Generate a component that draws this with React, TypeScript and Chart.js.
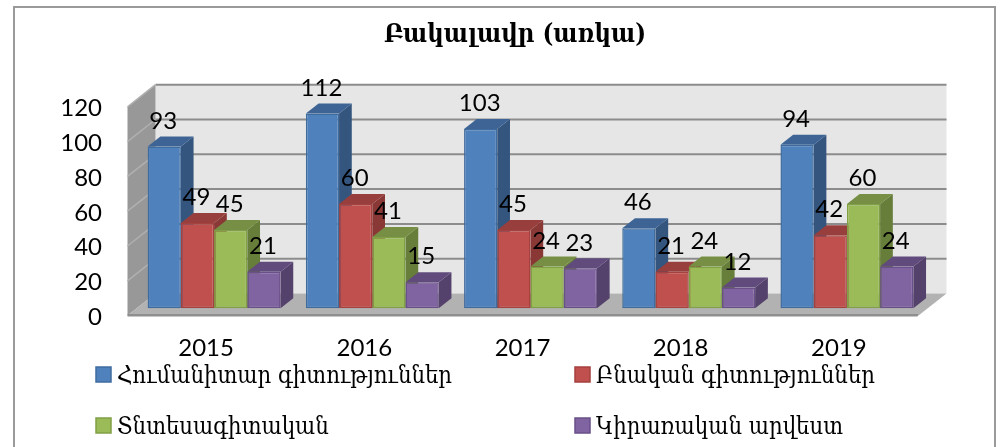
import React, { useEffect, useRef } from "react";
import { Chart, registerables } from "chart.js";

Chart.register(...registerables);

const categories = ["2015", "2016", "2017", "2018", "2019"];
const humanities = [93, 112, 103, 46, 94];
const naturalSci = [49, 60, 45, 21, 42];
const economics = [45, 41, 24, 24, 60];
const appliedArts = [21, 15, 23, 12, 24];
const seriesNames = [
  "Հումանիտար գիտություններ",
  "Բնական գիտություններ",
  "Տնտեսագիտական",
  "Կիրառական արվեստ",
];
const titleText = "Բակալավր (առկա)";

const NUM_FONT = "Lato";
const ARM_FONT = "'DejaVu Serif Condensed', 'DejaVu Serif'";

const faceColors = [
  { front: "#4F81BD", border: "#3F6C9F", side: "#34557E", top: "#3D6494" },
  { front: "#C0504D", border: "#A5423F", side: "#8A3836", top: "#983F3D" },
  { front: "#9BBB59", border: "#80A046", side: "#677D3A", top: "#768F44" },
  { front: "#8064A2", border: "#6A5088", side: "#55426C", top: "#604B7C" },
];

const FRONT = { dx: -7.5, dy: 7.3 };
const BACK = { dx: 20.5, dy: -14.8 };
const BAR_DEPTH = { dx: 12.7, dy: -10 };

function poly(ctx: CanvasRenderingContext2D, pts: number[][], fill: string) {
  ctx.beginPath();
  pts.forEach((p, i) => (i ? ctx.lineTo(p[0], p[1]) : ctx.moveTo(p[0], p[1])));
  ctx.closePath();
  ctx.fillStyle = fill;
  ctx.fill();
}

const box3d = {
  id: "box3d",
  afterLayout(chart: any) {
    // let the value labels sit outside the narrow axis box without being clipped
    chart.scales.y.left = 0;
  },
  beforeDraw(chart: any) {
    const { ctx } = chart;
    ctx.save();
    ctx.fillStyle = "#fff";
    ctx.fillRect(0, 0, chart.width, chart.height);
    ctx.strokeStyle = "#9A9A9A";
    ctx.lineWidth = 2;
    ctx.beginPath();
    ctx.moveTo(14, 447);
    ctx.lineTo(14, 7);
    ctx.lineTo(995, 7);
    ctx.lineTo(995, 447);
    ctx.stroke();
    ctx.restore();
  },
  beforeDatasetsDraw(chart: any) {
    const { ctx, scales } = chart;
    const y = scales.y;
    const left = chart.chartArea.left;
    const right = chart.chartArea.right;
    const y0 = y.getPixelForValue(0);
    const yMax = y.getPixelForValue(120);
    ctx.save();
    // back wall
    poly(ctx, [[left + BACK.dx, yMax + BACK.dy], [right + BACK.dx, yMax + BACK.dy], [right + BACK.dx, y0 + BACK.dy], [left + BACK.dx, y0 + BACK.dy]], "#E6E6E6");
    // left wall
    poly(ctx, [[left + FRONT.dx, yMax + FRONT.dy], [left + BACK.dx, yMax + BACK.dy], [left + BACK.dx, y0 + BACK.dy], [left + FRONT.dx, y0 + FRONT.dy]], "#989898");
    // floor
    poly(ctx, [[left + FRONT.dx, y0 + FRONT.dy], [right + FRONT.dx, y0 + FRONT.dy], [right + BACK.dx, y0 + BACK.dy], [left + BACK.dx, y0 + BACK.dy]], "#B2B2B2");
    poly(ctx, [[left + FRONT.dx, y0 + FRONT.dy - 1.5], [right + FRONT.dx, y0 + FRONT.dy - 1.5], [right + FRONT.dx - 1, y0 + FRONT.dy + 1], [left + FRONT.dx, y0 + FRONT.dy + 1]], "#8F8F8F");
    // gridlines
    y.ticks.forEach((t: any) => {
      const py = y.getPixelForValue(t.value);
      if (t.value > 0) {
        ctx.strokeStyle = "#8C8C8C";
        ctx.lineWidth = 2;
        ctx.beginPath();
        ctx.moveTo(left + BACK.dx, py + BACK.dy);
        ctx.lineTo(right + BACK.dx, py + BACK.dy);
        ctx.stroke();
        ctx.strokeStyle = "#B0B0B0";
        ctx.lineWidth = 1.5;
        ctx.beginPath();
        ctx.moveTo(left + FRONT.dx, py + FRONT.dy);
        ctx.lineTo(left + BACK.dx, py + BACK.dy);
        ctx.stroke();
      }
    });
    // bars, series by series from left to right so each front covers its neighbour's side face
    chart.data.datasets.forEach((_: any, i: number) => {
      const c = faceColors[i];
      chart.getDatasetMeta(i).data.forEach((bar: any) => {
        const { x, y: top, base, width } = bar.getProps(["x", "y", "base", "width"], true);
        const l = x - width / 2;
        const r = x + width / 2;
        const d = BAR_DEPTH;
        poly(ctx, [[r, top], [r + d.dx, top + d.dy], [r + d.dx, base + d.dy], [r, base]], c.side);
        poly(ctx, [[l, top], [l + d.dx, top + d.dy], [r + d.dx, top + d.dy], [r, top]], c.top);
        bar.draw(ctx);
      });
    });
    ctx.restore();
    return false;
  },
  afterDraw(chart: any) {
    const { ctx } = chart;
    ctx.save();
    // data labels
    ctx.font = `24px ${NUM_FONT}`;
    ctx.fillStyle = "#000";
    ctx.textAlign = "center";
    ctx.textBaseline = "middle";
    chart.data.datasets.forEach((ds: any, i: number) => {
      chart.getDatasetMeta(i).data.forEach((bar: any, j: number) => {
        const { x, y } = bar.getProps(["x", "y"], true);
        ctx.fillText(String(ds.data[j]), x - 1, y - 25.5);
      });
    });
    // legend
    const cols = [96, 575];
    const rows = [375, 426];
    chart.data.datasets.forEach((ds: any, i: number) => {
      const bx = cols[i % 2];
      const by = rows[Math.floor(i / 2)];
      ctx.fillStyle = faceColors[i].front;
      ctx.strokeStyle = faceColors[i].border;
      ctx.lineWidth = 1.5;
      ctx.fillRect(bx, by - 8, 15, 15);
      ctx.strokeRect(bx, by - 8, 15, 15);
      ctx.fillStyle = "#000";
      ctx.font = `23.7px ${ARM_FONT}`;
      ctx.textAlign = "left";
      ctx.textBaseline = "middle";
      ctx.fillText(ds.label, bx + 21, by + 1.5);
    });
    ctx.restore();
  },
};

export default function App() {
  const ref = useRef<HTMLCanvasElement>(null);
  useEffect(() => {
    const values = [humanities, naturalSci, economics, appliedArts];
    const chart = new Chart(ref.current!, {
      type: "bar",
      data: {
        labels: categories,
        datasets: values.map((v, i) => ({
          label: seriesNames[i],
          data: v,
          backgroundColor: faceColors[i].front,
          borderColor: faceColors[i].border,
          borderWidth: 1.5,
          borderSkipped: false,
          categoryPercentage: 0.84,
          barPercentage: 1,
        })),
      },
      plugins: [box3d],
      options: {
        animation: false,
        responsive: false,
        layout: { padding: { left: 104, right: 74, top: 0, bottom: 0 } },
        plugins: {
          legend: { display: false },
          tooltip: { enabled: false },
          title: {
            display: true,
            text: titleText,
            color: "#000",
            font: { family: ARM_FONT, size: 25.5, weight: "bold", lineHeight: 1.2 },
            padding: { top: 20.2, bottom: 48.7 },
          },
        },
        scales: {
          x: {
            grid: { display: false, drawTicks: false },
            border: { display: false },
            ticks: {
              padding: 25.5,
              labelOffset: -8,
              color: "#000",
              maxRotation: 0,
              font: { family: NUM_FONT, size: 24 },
            },
            afterFit: (s: any) => { s.height = 138.7; },
          },
          y: {
            min: 0,
            max: 120,
            grid: { display: false, drawTicks: false },
            border: { display: false },
            ticks: {
              stepSize: 20,
              padding: 33,
              labelOffset: 9,
              color: "#000",
              font: { family: NUM_FONT, size: 24 },
            },
            afterFit: (s: any) => { s.width = 31; },
          },
        },
      },
    } as any);
    return () => chart.destroy();
  }, []);
  return (
    <div style={{ position: "fixed", left: 0, top: 0, width: 1000, height: 447 }}>
      <canvas ref={ref} width={1000} height={447} style={{ display: "block" }} />
    </div>
  );
}
